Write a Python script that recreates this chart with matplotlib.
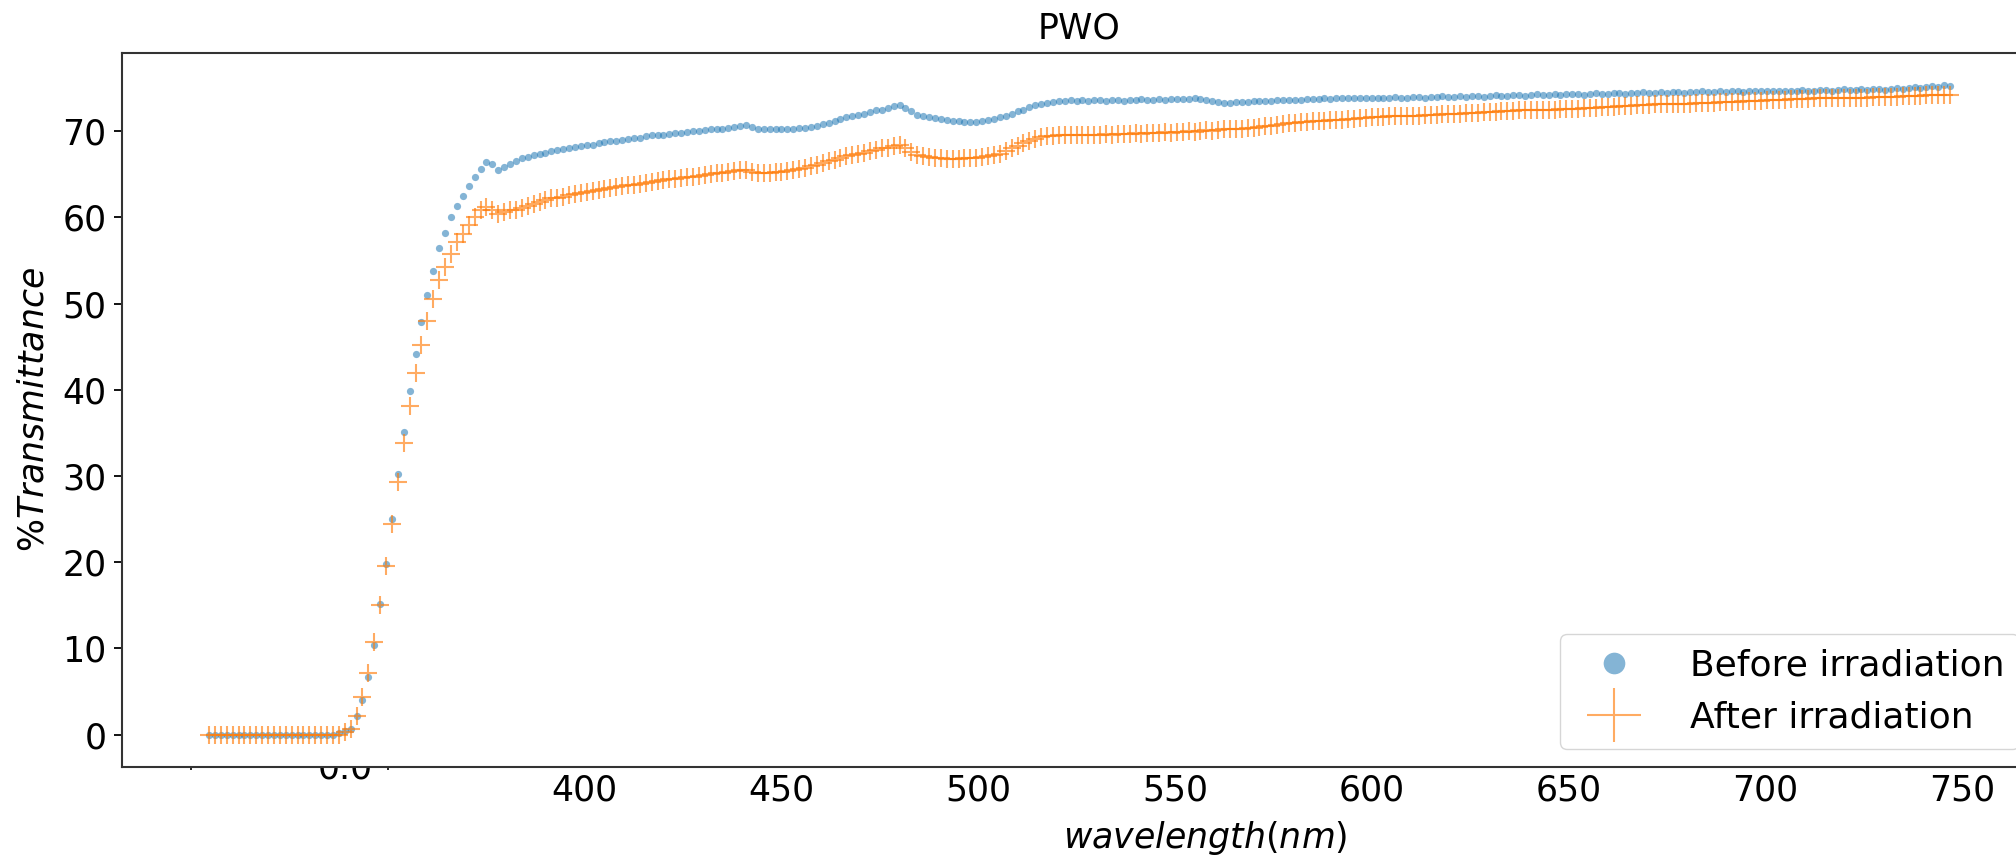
import numpy as np
import matplotlib
matplotlib.use("Agg")
import matplotlib.pyplot as plt
from matplotlib.transforms import Bbox

# %Transmittance, PWO crystal (1.5 nm sampling from 304.5 nm)
before_rise = [0.7, 2.1, 4.0, 6.7, 10.4, 15.1, 19.8, 25.0, 30.2, 35.1, 39.8, 44.2, 47.9,
               51.0, 53.8, 56.4, 58.2, 60.0, 61.3, 62.5, 63.6, 64.7, 65.6, 66.4, 66.2]
before_mid = [65.5, 65.8, 66.2, 66.5, 66.9, 67.0, 67.2, 67.3, 67.5, 67.7,
              67.8, 67.9, 68.0, 68.2, 68.3, 68.4, 68.4, 68.6, 68.7, 68.8,
              68.9, 69.0, 69.1, 69.2, 69.2, 69.4, 69.5, 69.5, 69.6, 69.7,
              69.8, 69.8, 69.9, 70.0, 70.0, 70.1, 70.2, 70.2, 70.3, 70.4,
              70.5, 70.6, 70.7, 70.5, 70.3, 70.2, 70.2, 70.3, 70.2, 70.3,
              70.3, 70.4, 70.4, 70.5, 70.6, 70.8, 71.0, 71.2, 71.4, 71.6,
              71.7, 71.9, 72.0, 72.2, 72.4, 72.5, 72.7, 72.9, 73.0, 72.7,
              72.3, 71.9, 71.7, 71.6, 71.5, 71.4, 71.3, 71.2, 71.2, 71.1,
              71.1, 71.1, 71.2, 71.3, 71.4, 71.6, 71.8, 72.0, 72.3, 72.5,
              72.8, 73.0, 73.2, 73.3, 73.4, 73.5, 73.5]
before_tail = [73.6, 73.5, 73.6, 73.5, 73.6, 73.6, 73.5, 73.6, 73.6, 73.5,
               73.6, 73.6, 73.7, 73.6, 73.6, 73.7, 73.6, 73.7, 73.7, 73.7,
               73.7, 73.8, 73.7, 73.6, 73.5, 73.4, 73.3,
               73.3, 73.4, 73.4, 73.4, 73.5, 73.5, 73.5, 73.5, 73.6, 73.6, 73.6, 73.6, 73.6,
               73.7, 73.7, 73.7, 73.8, 73.7, 73.8, 73.8,
               73.8, 73.9, 73.8, 73.9, 73.9, 73.8, 73.9, 73.9, 74.0, 73.9,
               73.9, 74.0, 74.0, 73.9, 74.0, 74.0, 74.1, 74.0, 74.0,
               74.1, 74.0, 74.1, 74.1, 74.0, 74.1, 74.2, 74.1, 74.1, 74.2,
               74.2, 74.1, 74.2, 74.3, 74.2, 74.2, 74.3, 74.2, 74.3, 74.3,
               74.3, 74.2, 74.3, 74.4, 74.3, 74.3, 74.4, 74.4, 74.3, 74.4,
               74.4, 74.5, 74.4, 74.4, 74.5, 74.4, 74.5, 74.5, 74.4, 74.5,
               74.5, 74.6, 74.5, 74.5, 74.6, 74.5, 74.6, 74.6, 74.5, 74.6,
               74.7, 74.6, 74.6, 74.7,
               74.7, 74.6, 74.7, 74.7, 74.8, 74.7, 74.7, 74.8, 74.8, 74.7,
               74.8, 74.9, 74.8, 74.8, 74.9, 74.8, 74.9, 74.9, 74.8, 74.9,
               75.0, 74.9, 75.0, 75.1, 75.0, 75.1, 75.2, 75.1, 75.3, 75.2]

after_rise = [0.7, 2.2, 4.3, 7.1, 10.7, 15.0, 19.6, 24.4, 29.3, 33.8, 38.1, 41.9, 45.2,
              48.0, 50.5, 52.7, 54.2, 55.8, 57.1, 58.1, 59.1, 60.0, 60.8, 61.2, 60.9]
after_mid = [60.4, 60.6, 60.8, 60.9, 61.1, 61.3, 61.6, 61.8, 62.0, 62.2,
             62.3, 62.4, 62.6, 62.7, 62.8, 62.9, 63.0, 63.2, 63.3, 63.4,
             63.5, 63.6, 63.7, 63.8, 63.9, 64.0, 64.1, 64.2, 64.3, 64.4,
             64.5, 64.6, 64.7, 64.7, 64.8, 64.9, 65.0, 65.1, 65.2, 65.3,
             65.4, 65.5, 65.5, 65.3, 65.1, 65.1, 65.2, 65.3, 65.3, 65.4,
             65.5, 65.6, 65.7, 65.9, 66.1, 66.3, 66.5, 66.7, 66.9, 67.1,
             67.2, 67.4, 67.5, 67.7, 67.8, 68.0, 68.1, 68.3, 68.4, 68.0,
             67.6, 67.2, 67.1, 67.0, 66.9, 66.9, 66.8, 66.8, 66.8, 66.9,
             66.9, 66.9, 67.0, 67.1, 67.2, 67.4, 67.7, 68.0, 68.3, 68.6,
             68.9, 69.1, 69.3, 69.4, 69.4, 69.5, 69.5]
after_tail = [69.5, 69.6, 69.5, 69.6, 69.6, 69.6, 69.7, 69.6, 69.7, 69.7,
              69.7, 69.8, 69.7, 69.8, 69.8, 69.8, 69.9, 69.8, 69.9, 69.9,
              70.0, 69.9, 70.0, 70.1, 70.0, 70.1, 70.2,
              70.2, 70.3, 70.3, 70.4, 70.4, 70.5, 70.6, 70.6, 70.7, 70.8, 70.9, 71.0, 71.1,
              71.1, 71.2, 71.2, 71.2, 71.3, 71.3, 71.3,
              71.4, 71.4, 71.5, 71.5, 71.6, 71.6, 71.6, 71.7, 71.7, 71.7,
              71.8, 71.8, 71.8, 71.9, 71.9, 71.9, 72.0, 72.0, 72.0,
              72.0, 72.1, 72.1, 72.1, 72.2, 72.2, 72.2, 72.3, 72.3, 72.3,
              72.4, 72.4, 72.4, 72.5, 72.5, 72.5, 72.5, 72.6, 72.6, 72.6,
              72.6, 72.7, 72.7, 72.7, 72.8, 72.8, 72.8, 72.9, 72.9, 72.9,
              73.0, 73.0, 73.0, 73.1, 73.1, 73.1, 73.1, 73.2, 73.2, 73.2,
              73.3, 73.3, 73.3, 73.3, 73.4, 73.4, 73.4, 73.4, 73.5, 73.5,
              73.5, 73.5, 73.6, 73.6,
              73.6, 73.6, 73.7, 73.7, 73.7, 73.7, 73.8, 73.8, 73.8, 73.8,
              73.8, 73.9, 73.9, 73.9, 73.9, 73.9, 74.0, 74.0, 74.0, 74.0,
              74.0, 74.1, 74.1, 74.1, 74.1, 74.2, 74.2, 74.2, 74.2, 74.2]

before = [0.0] * 22 + [0.2, 0.4] + before_rise + before_mid + before_tail
after = [0.0] * 23 + [0.3] + after_rise + after_mid + after_tail
assert len(before) == len(after), (len(before), len(after))

wl = 304.5 + 1.5 * np.arange(len(before))
xticks = [400, 450, 500, 550, 600, 650, 700, 750]
yticks = [0, 10, 20, 30, 40, 50, 60, 70]

fs = 25
fig = plt.figure(figsize=(20.16, 8.55), dpi=100)
# axes runs a bit past the right edge of the picture, as in the original crop
ax = fig.add_axes([122 / 2016, 88 / 855, 1915 / 2016, 714 / 855])

ax.plot(wl, before, 'o', color='#1f77b4', ms=5.2, mew=0, alpha=0.55,
        label='Before irradiation')
ax.plot(wl, after, '+', color='#ff7f0e', ms=13, mew=1.5, alpha=0.65,
        label='After irradiation')

ax.set_xticks(xticks)
ax.set_xticks([300, 350], minor=True)
ax.set_yticks(yticks)
ax.tick_params(axis='x', which='major', length=0, pad=5, labelsize=fs)
ax.tick_params(axis='x', which='minor', length=2.5, width=1.2)
ax.tick_params(axis='y', length=6, width=1.3, pad=5, labelsize=fs)
for sp in ax.spines.values():
    sp.set_linewidth(1.5)
    sp.set_color('#333333')

ax.set_title('PWO', fontsize=fs, pad=10.5)
ax.set_xlabel(r'$wavelength(nm)$', fontsize=fs, va='center')
ax.xaxis.set_label_coords(0.5655, -0.0994)
ax.set_ylabel(r'%$Transmittance$', fontsize=fs, va='center')
ax.yaxis.set_label_coords(-0.046, 0.5)

ax.legend(loc='lower right', fontsize=26, markerscale=3, handlelength=2.2,
          handletextpad=1.0)

# stray, half hidden tick label left over in the original figure
t = fig.text(345 / 2016, 77 / 855, '0.0', fontsize=fs, ha='center', va='baseline',
             zorder=-1)
t.set_clip_box(Bbox.from_extents(0, 0, 2016, 87))
t.set_clip_on(True)

fig.savefig('out.png', dpi=100)
